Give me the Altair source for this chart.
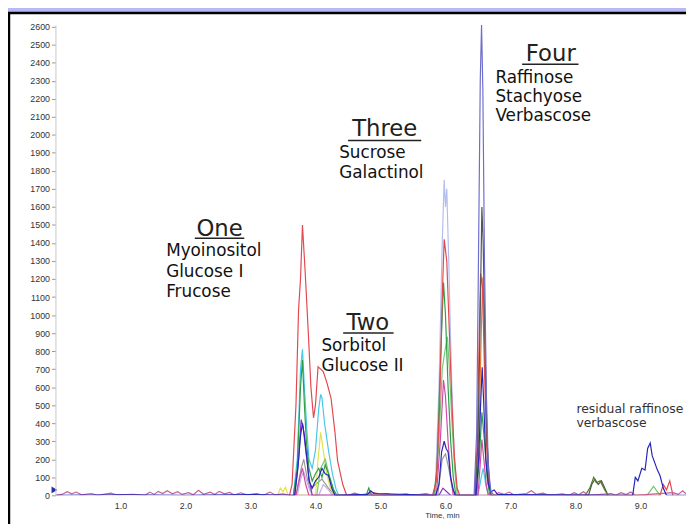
import altair as alt
import pandas as pd

# ---------------- chromatogram traces: (time [min], intensity) ----------------
light_lavender = [(5.84, 0), (5.9, 600), (5.95, 1400), (5.98, 1750), (6.0, 1600), (6.02, 1700),
                  (6.05, 1300), (6.09, 700), (6.13, 250), (6.17, 50), (6.2, 0)]
gray = [(3.7, 0), (3.78, 150), (3.82, 200), (3.87, 100), (3.92, 30), (4.0, 60), (4.1, 90),
        (4.2, 40), (4.3, 0), (5.88, 0), (5.95, 200), (6.0, 230), (6.05, 150), (6.1, 50), (6.15, 0)]
light_purple = [(3.72, 0), (3.78, 100), (3.82, 130), (3.9, 40), (3.95, 0), (4.05, 0), (4.12, 60),
                (4.2, 30), (4.26, 0)]
yellow = [(3.42, 0), (3.46, 40), (3.5, 20), (3.54, 45), (3.58, 0), (4.0, 0), (4.04, 200),
          (4.08, 350), (4.12, 250), (4.17, 120), (4.23, 40), (4.3, 0)]
light_green = [(4.02, 0), (4.08, 150), (4.15, 200), (4.22, 100), (4.3, 0), (5.84, 0), (5.9, 300),
               (5.95, 700), (6.0, 820), (6.03, 880), (6.06, 700), (6.1, 400), (6.14, 150),
               (6.18, 0), (9.1, 0), (9.2, 50), (9.3, 0)]
cyan = [(3.66, 0), (3.72, 200), (3.77, 700), (3.8, 810), (3.83, 600), (3.87, 350), (3.9, 200),
        (3.95, 150), (4.0, 250), (4.05, 480), (4.08, 560), (4.1, 540), (4.14, 400), (4.2, 250),
        (4.26, 120), (4.32, 30), (4.36, 0), (6.5, 0), (6.55, 100), (6.58, 150), (6.62, 60), (6.66, 0)]
green = [(3.66, 0), (3.72, 150), (3.77, 600), (3.8, 750), (3.83, 500), (3.86, 300), (3.9, 150),
         (3.95, 80), (4.0, 120), (4.05, 150), (4.1, 100), (4.15, 170), (4.2, 120), (4.28, 30),
         (4.33, 0), (4.78, 0), (4.82, 40), (4.86, 0), (5.82, 0), (5.87, 150), (5.91, 600),
         (5.95, 1000), (5.97, 1180), (6.0, 1000), (6.04, 600), (6.08, 300), (6.12, 100), (6.16, 0),
         (6.48, 0), (6.52, 200), (6.56, 460), (6.6, 300), (6.64, 100), (6.68, 0)]
magenta = [(3.7, 0), (3.76, 100), (3.8, 150), (3.85, 60), (3.9, 0), (5.86, 0), (5.92, 300),
           (5.97, 640), (6.0, 550), (6.04, 300), (6.08, 100), (6.12, 0), (6.5, 0), (6.54, 200),
           (6.56, 310), (6.59, 200), (6.63, 50), (6.66, 0)]
orange = [(6.48, 0), (6.52, 400), (6.55, 900), (6.575, 1210), (6.6, 900), (6.63, 400),
          (6.66, 100), (6.7, 0)]
red = [(3.6, 0), (3.64, 60), (3.7, 500), (3.74, 1030), (3.77, 1200), (3.8, 1500), (3.84, 1250),
       (3.89, 900), (3.93, 600), (3.97, 430), (4.0, 500), (4.04, 713), (4.08, 700), (4.12, 686),
       (4.18, 620), (4.24, 538), (4.3, 350), (4.34, 192), (4.42, 60), (4.48, 0), (5.8, 0),
       (5.86, 80), (5.91, 500), (5.95, 1100), (5.98, 1420), (6.02, 1300), (6.06, 900), (6.1, 500),
       (6.14, 200), (6.18, 40), (6.22, 0), (6.45, 0), (6.49, 300), (6.52, 900), (6.54, 1230),
       (6.57, 1150), (6.6, 700), (6.63, 300), (6.66, 80), (6.7, 0), (9.3, 0), (9.35, 60),
       (9.4, 30), (9.45, 80), (9.5, 0)]
dark_gray = [(6.46, 0), (6.5, 300), (6.53, 900), (6.56, 1600), (6.58, 1400), (6.61, 800),
             (6.64, 300), (6.68, 50), (6.7, 0), (8.2, 0), (8.25, 60), (8.3, 90), (8.35, 60),
             (8.4, 80), (8.45, 40), (8.5, 0)]
olive = [(8.15, 0), (8.22, 40), (8.28, 100), (8.32, 70), (8.38, 80), (8.45, 30), (8.5, 0)]
purple = [(3.68, 0), (3.74, 200), (3.78, 420), (3.81, 380), (3.85, 250), (3.9, 100), (3.95, 0),
          (5.9, 0), (5.96, 40), (6.02, 20), (6.08, 0)]
pink_noise = [(0, 0), (0.1, 5), (0.18, 20), (0.25, 8), (0.32, 18), (0.4, 3), (0.55, 10), (0.65, 0),
              (0.85, 12), (0.95, 2), (1.2, 6), (1.38, 0), (1.45, 18), (1.52, 5), (1.58, 22),
              (1.65, 10), (1.72, 25), (1.8, 8), (1.88, 20), (1.95, 5), (2.05, 15), (2.12, 3),
              (2.2, 28), (2.28, 6), (2.38, 18), (2.45, 4), (2.52, 22), (2.6, 8), (2.68, 16),
              (2.75, 2), (2.85, 14), (2.95, 3), (3.1, 10), (3.2, 0), (3.3, 18), (3.38, 2),
              (3.5, 8), (3.6, 0), (4.5, 0), (4.6, 12), (4.7, 3), (4.9, 15), (5.0, 5), (5.1, 10),
              (5.2, 0), (5.4, 8), (5.5, 0), (5.7, 10), (5.8, 0), (6.75, 0), (6.82, 15), (6.9, 5),
              (6.98, 18), (7.05, 3), (7.25, 10), (7.32, 25), (7.4, 5), (7.5, 12), (7.6, 0),
              (7.8, 8), (7.9, 0), (7.98, 15), (8.05, 3), (8.12, 20), (8.2, 0), (8.55, 10),
              (8.62, 0), (8.7, 15), (8.78, 4), (8.85, 18), (8.92, 0), (9.5, 15), (9.58, 5),
              (9.65, 25), (9.7, 8)]
dark_blue = [(0, 0), (1.0, 3), (2.0, 0), (3.0, 4), (3.68, 0), (3.73, 150), (3.77, 330), (3.8, 400),
             (3.83, 330), (3.87, 200), (3.9, 80), (3.95, 40), (4.0, 80), (4.05, 100), (4.1, 150),
             (4.15, 120), (4.2, 110), (4.25, 40), (4.3, 0), (4.8, 5), (4.85, 25), (4.9, 10),
             (5.85, 0), (5.9, 60), (5.94, 240), (5.98, 300), (6.01, 260), (6.04, 240), (6.08, 100),
             (6.12, 30), (6.15, 0), (6.47, 0), (6.51, 200), (6.54, 500), (6.565, 710), (6.59, 500),
             (6.62, 200), (6.66, 60), (6.7, 20), (6.75, 30), (6.8, 5), (8.88, 0), (8.92, 100),
             (8.96, 80), (9.02, 150), (9.07, 140), (9.11, 260), (9.15, 290), (9.18, 220),
             (9.22, 180), (9.26, 140), (9.3, 110), (9.35, 40), (9.4, 0), (9.7, 0)]
slate = [(6.4, 0), (6.44, 0), (6.48, 350), (6.51, 1400), (6.535, 2300), (6.555, 2610),
         (6.575, 2250), (6.6, 1300), (6.63, 550), (6.66, 150), (6.7, 20), (6.75, 0)]

# draw order (back -> front) with colours
traces = [
    (light_lavender, "#B4BEEE"), (gray, "#9A9A9A"), (light_purple, "#C4B0E4"), (yellow, "#E2E24A"),
    (light_green, "#78C878"), (cyan, "#46C8E6"), (green, "#2E9E44"), (magenta, "#D04AA8"),
    (orange, "#E8782E"), (red, "#E4484E"), (dark_gray, "#555555"), (olive, "#4E7A22"),
    (purple, "#8A34C4"), (pink_noise, "#C86090"), (dark_blue, "#2626B8"), (slate, "#6E6ECC"),
]

# ---------------- annotations ----------------
head_labels = ["One", "Two", "Three", "Four"]
head_t = [2.525, 4.806, 5.065, 7.62]
head_v = [1475, 954, 2030, 2447]
uline_t1 = [2.144, 4.426, 4.502, 7.179]
uline_t2 = [2.905, 5.202, 5.627, 8.046]
uline_v = [1426, 900, 1969, 2392]

body_labels = ["Myoinositol", "Glucose I", "Frucose", "Sorbitol", "Glucose II", "Sucrose",
               "Galactinol", "Raffinose", "Stachyose", "Verbascose"]
body_t = [1.703, 1.703, 1.703, 4.091, 4.091, 4.365, 4.365, 6.768, 6.768, 6.768]
body_v = [1355, 1240, 1130, 828, 719, 1898, 1788, 2315, 2211, 2106]

small_labels = ["residual raffinose", "verbascose"]
small_t = [8.015, 8.015]
small_v = [477, 400]

y_ticks = list(range(0, 2700, 100))
x_ticks = [1, 2, 3, 4, 5, 6, 7, 8, 9]

# ---------------- chart ----------------
xs = alt.Scale(domain=[0, 9.7], nice=False, zero=False)
ys = alt.Scale(domain=[0, 2610], nice=False)
x_axis = alt.Axis(values=x_ticks, format=".1f", labelFontSize=9, labelColor="#333",
                  labelFont="Liberation Sans", domain=False, ticks=False, grid=False,
                  labelPadding=6, title="Time, min", titleFontSize=8, titleFontWeight="normal",
                  titleFont="Liberation Sans", titleColor="#333", titleX=391, titleY=16,
                  titleBaseline="top", zindex=1)
y_axis = alt.Axis(values=y_ticks, format="d", labelFontSize=9, labelColor="#333",
                  labelFont="Liberation Sans", tickSize=4, tickColor="#999", domainColor="#c8c8c8",
                  grid=False, labelPadding=2, title=None, zindex=1)


def X(field):
    return alt.X(field, type="quantitative", scale=xs, axis=x_axis)


def Y(field):
    return alt.Y(field, type="quantitative", scale=ys, axis=y_axis)


frame = alt.Chart(pd.DataFrame({"k": [0]})).mark_rect(
    fill="white", stroke="black", strokeWidth=2.5, clip=False
).encode(x=alt.value(-47), x2=alt.value(700), y=alt.value(-12), y2=alt.value(600))

layers = [frame]
for pts, col in traces:
    df = pd.DataFrame(pts, columns=["t", "v"])
    layers.append(alt.Chart(df).mark_line(color=col, strokeWidth=1.2, clip=True).encode(
        x=X("t"), y=Y("v")))

marker = alt.Chart(pd.DataFrame({"t": [0.0], "v": [30]})).mark_point(
    shape="triangle-right", filled=True, color="#2a2aa0", size=45, opacity=1, clip=False, xOffset=-1
).encode(x=X("t"), y=Y("v"))

heads = alt.Chart(pd.DataFrame({"lab": head_labels, "t": head_t, "v": head_v})).mark_text(
    font="DejaVu Sans", fontSize=23, color="#222", align="center", baseline="middle"
).encode(x=X("t"), y=Y("v"), text="lab:N")
ulines = alt.Chart(pd.DataFrame({"t1": uline_t1, "t2": uline_t2, "v": uline_v})).mark_rule(
    color="#222", strokeWidth=1.5
).encode(x=X("t1"), x2="t2:Q", y=Y("v"))
body = alt.Chart(pd.DataFrame({"lab": body_labels, "t": body_t, "v": body_v})).mark_text(
    font="DejaVu Sans", fontSize=17, color="#111", align="left", baseline="middle"
).encode(x=X("t"), y=Y("v"), text="lab:N")
small = alt.Chart(pd.DataFrame({"lab": small_labels, "t": small_t, "v": small_v})).mark_text(
    font="DejaVu Sans", fontSize=12.5, color="#333", align="left", baseline="middle", clip=False
).encode(x=X("t"), y=Y("v"), text="lab:N")

chart = alt.layer(*layers, marker, heads, ulines, body, small).properties(
    width=638, height=476,
    autosize=alt.AutoSizeParams(type="none"),
    padding={"left": 48, "top": 14, "right": 0, "bottom": 30},
    background="#B8B8F6",
).configure_view(stroke=None)

chart.save("out.html", embed_options={"renderer": "svg", "actions": False})
